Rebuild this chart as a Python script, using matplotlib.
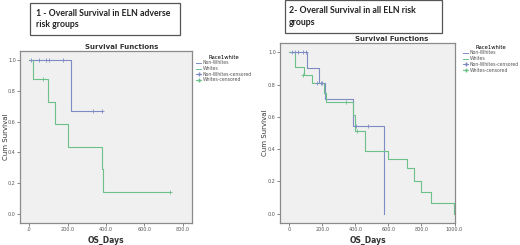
import matplotlib
matplotlib.use("Agg")
import matplotlib.pyplot as plt
from matplotlib.lines import Line2D
from matplotlib.patches import Rectangle

# ---------------- data ----------------
# Left panel: ELN adverse risk group
L_NW_T = [0, 217, 380]
L_NW_S = [1.0, 0.667, 0.667]
L_NW_CENS_T = [10, 50, 90, 105, 175, 333, 380]
L_NW_CENS_S = [1.0, 1.0, 1.0, 1.0, 1.0, 0.667, 0.667]
L_W_T = [0, 22, 100, 135, 204, 378, 386, 732]
L_W_S = [1.0, 0.875, 0.729, 0.583, 0.4375, 0.292, 0.146, 0.146]
L_W_CENS_T = [74, 732]
L_W_CENS_S = [0.875, 0.146]

# Right panel: all ELN risk groups
R_NW_T = [0, 107, 178, 215, 383, 573]
R_NW_S = [1.0, 0.90, 0.81, 0.71, 0.543, 0.0]
R_NW_CENS_T = [15, 35, 55, 82, 100, 170, 190, 200, 403, 475]
R_NW_CENS_S = [1.0, 1.0, 1.0, 1.0, 1.0, 0.81, 0.81, 0.81, 0.543, 0.543]
R_W_T = [0, 31, 86, 137, 209, 219, 383, 400, 455, 597, 714, 757, 798, 859, 996]
R_W_S = [1.0, 0.91, 0.86, 0.81, 0.75, 0.69, 0.61, 0.51, 0.39, 0.34, 0.28,
         0.205, 0.137, 0.068, 0.0]
R_W_CENS_T = [80, 342, 410]
R_W_CENS_S = [0.86, 0.69, 0.51]

L_XTICKS = [0, 200, 400, 600, 800]
L_XLABELS = [".0", "200.0", "400.0", "600.0", "800.0"]
R_XTICKS = [0, 200, 400, 600, 800, 1000]
R_XLABELS = ["0", "200.0", "400.0", "600.0", "800.0", "1000.0"]
YTICKS = [0.0, 0.2, 0.4, 0.6, 0.8, 1.0]
YLABELS = ["0.0", "0.2", "0.4", "0.6", "0.8", "1.0"]

LEGEND_TITLE = "Race1white"
LEGEND_LABELS = ["Non-Whites", "Whites", "Non-Whites-censored", "Whites-censored"]

TITLE_L = "1 - Overall Survival in ELN adverse\nrisk groups"
TITLE_R = "2- Overall Survival in all ELN risk\ngroups"

BLUE = "#7f8cc4"
GREEN = "#6cc08a"
BG = "#f0f0f0"
FRAME = "#8a8a8a"

W, H = 520, 245
fig = plt.figure(figsize=(W / 100, H / 100), dpi=100)
fig.patch.set_facecolor("white")


def px_axes(x0, y0, x1, y1):
    return fig.add_axes([x0 / W, 1 - y1 / H, (x1 - x0) / W, (y1 - y0) / H])


def panel(ax, nw_t, nw_s, nwc_t, nwc_s, w_t, w_s, wc_t, wc_s, xlim, xt, xl, ylab_x):
    ax.set_facecolor(BG)
    ax.step(nw_t, nw_s, where="post", color=BLUE, lw=0.8)
    ax.step(w_t, w_s, where="post", color=GREEN, lw=0.8)
    ax.plot(nwc_t, nwc_s, ls="none", marker="+", ms=2.5, mew=0.6, color=BLUE)
    ax.plot(wc_t, wc_s, ls="none", marker="+", ms=2.5, mew=0.6, color=GREEN)
    ax.set_xlim(*xlim)
    ax.set_ylim(-0.058, 1.058)
    ax.set_xticks(xt)
    ax.set_xticklabels(xl)
    ax.set_yticks(YTICKS)
    ax.set_yticklabels(YLABELS)
    ax.tick_params(labelsize=3.5, length=2, width=0.5, colors="#555555", pad=1)
    for s in ax.spines.values():
        s.set_color(FRAME)
        s.set_linewidth(0.9)
    ax.set_xlabel("OS_Days", fontsize=5.5, fontweight="bold", labelpad=3, color="#333333")
    ax.set_ylabel("Cum Survival", fontsize=5, color="#333333", va="center")
    ax.yaxis.set_label_coords(ylab_x, 0.5)


axL = px_axes(20, 51, 192, 223)
panel(axL, L_NW_T, L_NW_S, L_NW_CENS_T, L_NW_CENS_S, L_W_T, L_W_S,
      L_W_CENS_T, L_W_CENS_S, (-47, 847), L_XTICKS, L_XLABELS, (6 - 20) / 172)
axR = px_axes(280, 43, 455, 223)
panel(axR, R_NW_T, R_NW_S, R_NW_CENS_T, R_NW_CENS_S, R_W_T, R_W_S,
      R_W_CENS_T, R_W_CENS_S, (-57, 1003), R_XTICKS, R_XLABELS, (265 - 280) / 175)

handles = [Line2D([], [], color=BLUE, lw=0.7),
           Line2D([], [], color=GREEN, lw=0.7),
           Line2D([], [], color=BLUE, lw=0.7, marker="+", ms=2.5),
           Line2D([], [], color=GREEN, lw=0.7, marker="+", ms=2.5)]


def legend(x, y):
    fig.legend(handles, LEGEND_LABELS, title=LEGEND_TITLE, loc="upper left",
               bbox_to_anchor=(x / W, 1 - y / H), frameon=False, fontsize=3.3,
               title_fontsize=3.8, handlelength=1.2, handletextpad=0.3,
               labelspacing=0.15, borderpad=0.1, labelcolor="#555555")


legend(193, 52)
legend(460, 42)

# chart titles
fig.text(122 / W, 1 - 47 / H, "Survival Functions", fontsize=5, fontweight="bold",
         ha="center", va="center", color="#333333")
fig.text(392 / W, 1 - 39 / H, "Survival Functions", fontsize=5, fontweight="bold",
         ha="center", va="center", color="#333333")

# boxed headings
for (x0, y0, x1, y1, txt, tx) in [(30, 3, 180, 35, TITLE_L, 36),
                                  (285, 0, 442, 33, TITLE_R, 289)]:
    fig.patches.append(Rectangle((x0 / W, 1 - y1 / H), (x1 - x0) / W, (y1 - y0) / H,
                                 transform=fig.transFigure, fill=False,
                                 edgecolor="#555555", lw=0.9))
    fig.text(tx / W, 1 - (y0 + y1) / 2 / H, txt, fontsize=6.3, fontweight="bold",
             family="Lato", ha="left", va="center", color="#222222",
             linespacing=1.3)

fig.savefig("out.png", dpi=100)
